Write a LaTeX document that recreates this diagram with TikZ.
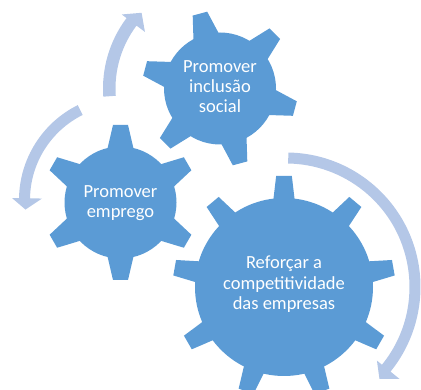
\documentclass[tikz,border=0pt]{standalone}
\usepackage{fontspec}
\setmainfont{Carlito}
\usetikzlibrary{calc}
\definecolor{gearblue}{RGB}{91,155,213}
\definecolor{arrowblue}{RGB}{180,199,231}
\begin{document}
\begin{tikzpicture}[x=1pt,y=1pt,
  gearfill/.style={fill=gearblue},
  arrowfill/.style={fill=arrowblue},
  gtext/.style={text=white, align=center, anchor=base, inner sep=0pt,
                font=\fontsize{18.5}{20.3}\selectfont}]
\useasboundingbox (0,0) rectangle (421,390);
\coordinate (gT) at (220,301.5);
\coordinate (gM) at (120.5,187.5);
\coordinate (gB) at (284,103);
\coordinate (aL) at (125,190);
\coordinate (aR) at (286,103);

% --- circular arrows ---
\fill[arrowfill] ($(aL)+(116.5:106)$) arc[start angle=116.5, end angle=179, radius=106]
  -- ($(aL)+(179:113)$) -- ($(aL)+(185.5:100)$) -- ($(aL)+(179:83)$)
  -- ($(aL)+(179:95)$) arc[start angle=179, end angle=116.5, radius=95] -- cycle;

\fill[arrowfill] ($(gT)+(184:117)$) arc[start angle=184, end angle=143, radius=117]
  -- ($(gT)+(143:123)$) -- ($(gT)+(136:109)$) -- ($(gT)+(143:94)$)
  -- ($(gT)+(143:104.5)$) arc[start angle=143, end angle=184, radius=104.5] -- cycle;

\fill[arrowfill] ($(aR)+(89:134.5)$) arc[start angle=89, end angle=-39, radius=134.5]
  -- ($(aR)+(-39:146)$) -- ($(aR)+(-44.5:131)$) -- ($(aR)+(-39:117)$)
  -- ($(aR)+(-39:123.5)$) arc[start angle=-39, end angle=89, radius=123.5] -- cycle;

% --- gears ---
\fill[gearfill] (gT) circle (56);
\foreach \a in {105,45,-15,-75,-135,165}
  \fill[gearfill, shift={(gT)}, rotate=\a] (45,-15.1) -- (77.5,-7.5) -- (77.5,7.5) -- (45,15.1) -- cycle;

\fill[gearfill] (gM) circle (56);
\foreach \a in {90,30,-30,-90,-150,150}
  \fill[gearfill, shift={(gM)}, rotate=\a] (45,-15.1) -- (77.5,-7.5) -- (77.5,7.5) -- (45,15.1) -- cycle;

\fill[gearfill] (gB) circle (89);
\foreach \a in {90,50,10,-30,-70,-110,-150,170,130}
  \fill[gearfill, shift={(gB)}, rotate=\a] (80,-11.5) -- (111,-7.85) -- (111,7.85) -- (80,11.5) -- cycle;

% --- texts (base anchor = baseline of the last line) ---
\node[gtext] (tT) at (220,277) {Promover\\inclusão\\social};
\node[gtext] (tM) at (120.5,172.3) {Promover\\emprego};
\node[gtext] (tB) at (284,80.5) {Reforçar a\\competitividade\\das empresas};
\end{tikzpicture}
\end{document}
